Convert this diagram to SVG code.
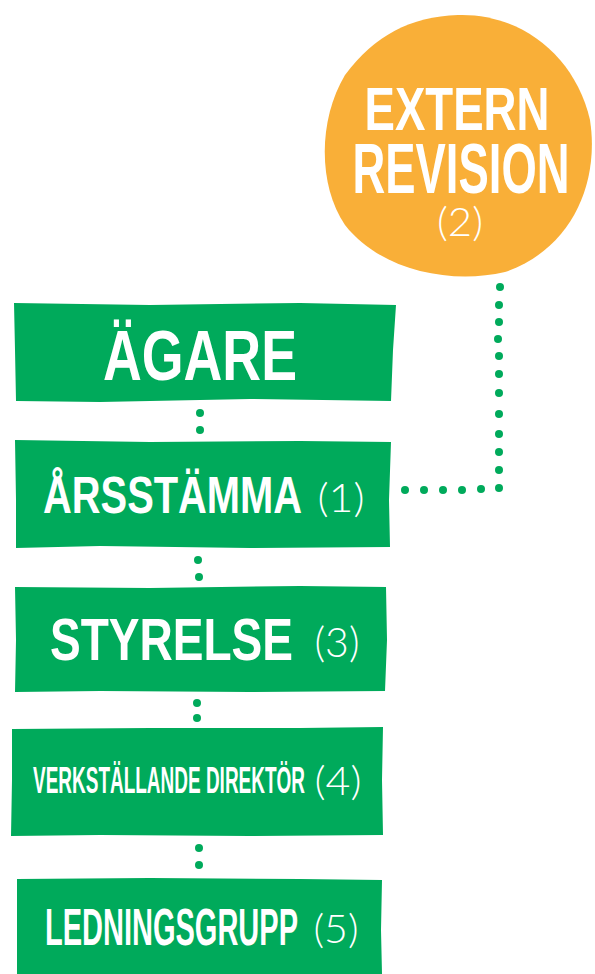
<svg xmlns="http://www.w3.org/2000/svg" width="595" height="974" viewBox="0 0 595 974">
<style>
.box{fill:#00AA5B}
.circ{fill:#F9AF38}
.t{font-family:"Liberation Sans","DejaVu Sans",sans-serif;font-weight:bold;fill:#fff}
.n{font-family:"Lato","Open Sans","Liberation Sans",sans-serif;font-weight:300;fill:#fff}
.dot{fill:#00AA5B}
</style>
<rect width="595" height="974" fill="#fff"/>
<g id="extern-revision">
<path class="circ" d="M458,15 C520,13 575,55 590,120 C600,185 570,250 505,272 C450,285 380,270 345,225 C318,185 318,120 345,75 C375,35 410,17 458,15 Z"/>
<text class="t" x="457" y="130" font-size="62" text-anchor="middle" textLength="185" lengthAdjust="spacingAndGlyphs">EXTERN</text>
<text class="t" x="461" y="193" font-size="70" text-anchor="middle" textLength="217" lengthAdjust="spacingAndGlyphs">REVISION</text>
<text class="n" x="460" y="236" font-size="40" text-anchor="middle" textLength="46" lengthAdjust="spacingAndGlyphs">(2)</text>
</g>
<g id="agare">
<path class="box" d="M14,303 L150,305 L300,303 L396,305 L393,350 L391,401 L250,399 L100,402 L16,401 L15,350 Z"/>
<text class="t" x="200" y="380" font-size="70" text-anchor="middle" textLength="194" lengthAdjust="spacingAndGlyphs">ÄGARE</text>
</g>
<g id="arsstamma">
<path class="box" d="M15,440 L150,442 L300,441 L391,442 L389,500 L390,547 L250,548 L100,546 L16,548 L16,500 Z"/>
<text class="t" x="43" y="513" font-size="52" textLength="259" lengthAdjust="spacingAndGlyphs">ÅRSSTÄMMA</text>
<text class="n" x="341" y="512" font-size="40" text-anchor="middle" textLength="47" lengthAdjust="spacingAndGlyphs">(1)</text>
</g>
<g id="styrelse">
<path class="box" d="M15,587 L150,588 L300,586 L386,587 L387,640 L385,691 L250,692 L100,691 L15,692 L16,640 Z"/>
<text class="t" x="50" y="660" font-size="60" textLength="243" lengthAdjust="spacingAndGlyphs">STYRELSE</text>
<text class="n" x="337" y="657" font-size="42" text-anchor="middle" textLength="45" lengthAdjust="spacingAndGlyphs">(3)</text>
</g>
<g id="vd">
<path class="box" d="M12,729 L150,728 L300,728 L383,727 L382,780 L383,835 L250,836 L100,835 L11,836 L12,780 Z"/>
<text class="t" x="33" y="793" font-size="37" textLength="272" lengthAdjust="spacingAndGlyphs">VERKSTÄLLANDE DIREKTÖR</text>
<text class="n" x="338" y="795" font-size="40" text-anchor="middle" textLength="47" lengthAdjust="spacingAndGlyphs">(4)</text>
</g>
<g id="ledningsgrupp">
<path class="box" d="M17,879 L150,878 L300,879 L382,880 L381,930 L382,974 L17,974 L17,930 Z"/>
<text class="t" x="45" y="945" font-size="52" textLength="253" lengthAdjust="spacingAndGlyphs">LEDNINGSGRUPP</text>
<text class="n" x="336" y="943" font-size="40" text-anchor="middle" textLength="45" lengthAdjust="spacingAndGlyphs">(5)</text>
</g>
<g id="connectors">
<circle class="dot" cx="200" cy="413" r="4"/>
<circle class="dot" cx="200" cy="430" r="4"/>
<circle class="dot" cx="199" cy="577" r="4"/>
<circle class="dot" cx="198" cy="560" r="4"/>
<circle class="dot" cx="197" cy="703" r="4"/>
<circle class="dot" cx="197" cy="718" r="4"/>
<circle class="dot" cx="199" cy="848" r="4"/>
<circle class="dot" cx="199" cy="865" r="4"/>
<circle class="dot" cx="405" cy="490" r="4"/>
<circle class="dot" cx="424" cy="490" r="4"/>
<circle class="dot" cx="443" cy="490" r="4"/>
<circle class="dot" cx="462" cy="490" r="4"/>
<circle class="dot" cx="481" cy="489" r="4"/>
<circle class="dot" cx="499" cy="488" r="4"/>
<circle class="dot" cx="499" cy="470" r="4"/>
<circle class="dot" cx="499" cy="452" r="4"/>
<circle class="dot" cx="499" cy="434" r="4"/>
<circle class="dot" cx="499" cy="414" r="4"/>
<circle class="dot" cx="499" cy="393" r="4"/>
<circle class="dot" cx="499" cy="374" r="4"/>
<circle class="dot" cx="499" cy="356" r="4"/>
<circle class="dot" cx="498" cy="339" r="4"/>
<circle class="dot" cx="499" cy="322" r="4"/>
<circle class="dot" cx="499" cy="305" r="4"/>
<circle class="dot" cx="500" cy="287" r="4"/>
</g>
</svg>
